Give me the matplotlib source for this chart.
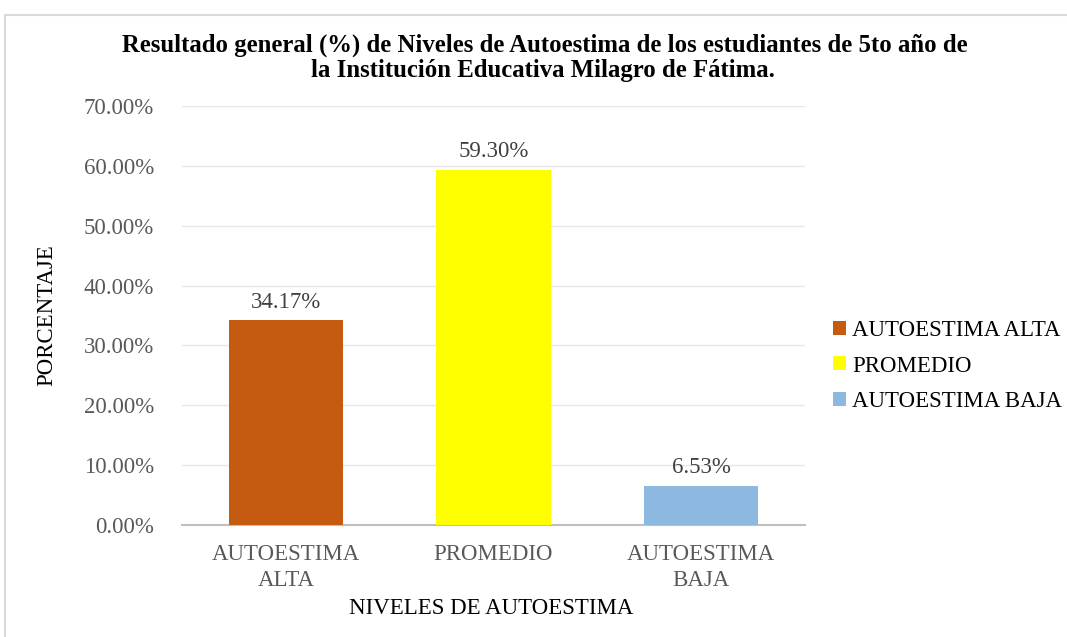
import matplotlib
matplotlib.use("Agg")
import matplotlib.pyplot as plt
from matplotlib.patches import Rectangle, Patch
from matplotlib.ticker import FuncFormatter, MultipleLocator

categories = ["AUTOESTIMA\nALTA", "PROMEDIO", "AUTOESTIMA\nBAJA"]
legend_labels = ["AUTOESTIMA ALTA", "PROMEDIO", "AUTOESTIMA BAJA"]
values = [34.17, 59.30, 6.53]
colors = ["#C55A11", "#FFFF00", "#8DB8E0"]

plt.rcParams['font.family'] = ['Liberation Serif', 'DejaVu Serif']

FS = 16.5
W, H = 1067, 637
fig = plt.figure(figsize=(W/100, H/100), dpi=100)
ax = fig.add_axes([182/W, 1-525/H, (805-182)/W, (525-106)/H])

x = list(range(len(values)))
bars = ax.bar(x, values, width=0.55, color=colors, zorder=3)
for b, v in zip(bars, values):
    ax.text(b.get_x()+b.get_width()/2, v+1.3, f"{v:.2f}%", ha='center', va='bottom',
            fontsize=FS, color='#404040')

ax.set_xlim(-0.5, 2.5)
ax.set_ylim(0, 70)
ax.yaxis.set_major_locator(MultipleLocator(10))
ax.yaxis.set_major_formatter(FuncFormatter(lambda v, p: f"{v:.2f}%"))
ax.set_xticks(x)
ax.set_xticklabels(categories, fontsize=FS, color='#595959', linespacing=1.3)
ax.tick_params(axis='y', labelsize=FS, labelcolor='#595959', length=0, pad=20)
ax.tick_params(axis='x', length=0, pad=14)
ax.grid(axis='y', color='#e6e6e6', linewidth=1, zorder=0)
for s in ['top', 'right', 'left']:
    ax.spines[s].set_visible(False)
ax.spines['bottom'].set_color('#bfbfbf')
ax.spines['bottom'].set_linewidth(1.5)

fig.text(491/W, 1-608/H, "NIVELES DE AUTOESTIMA", ha='center', va='center', fontsize=FS)
fig.text(47/W, 1-315/H, "PORCENTAJE", rotation=90, ha='center', va='center', fontsize=FS)

fig.text(545/W, 1-45/H, "Resultado general (%) de Niveles de Autoestima de los estudiantes de 5to año de",
         ha='center', va='center', fontsize=17.8, fontweight='bold')
fig.text(543/W, 1-70/H, "la Institución Educativa Milagro de Fátima.",
         ha='center', va='center', fontsize=17.8, fontweight='bold')

handles = [Patch(facecolor=c) for c in colors]
fig.legend(handles, legend_labels, loc='center left', bbox_to_anchor=(833/W, 1-366/H),
           frameon=False, fontsize=FS, handlelength=0.55, handleheight=0.55,
           handletextpad=0.3, labelspacing=0.62, borderpad=0, borderaxespad=0)

fig.patches.append(Rectangle((5/W, -0.1), 1.2, 1-15/H+0.1, transform=fig.transFigure,
                             fill=False, edgecolor='#d9d9d9', linewidth=1.5))

fig.savefig("out.png", dpi=100)
